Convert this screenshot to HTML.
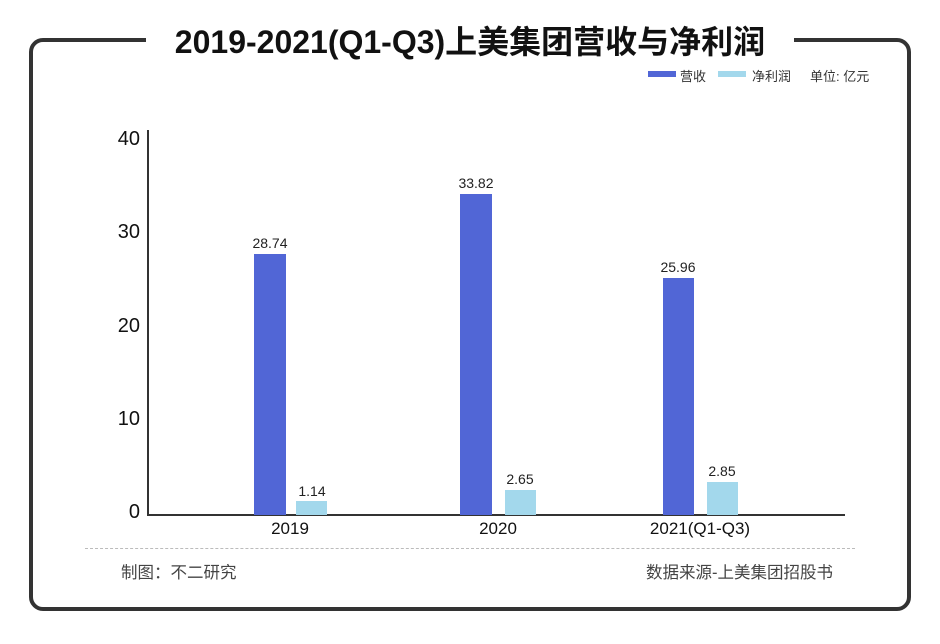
<!DOCTYPE html>
<html><head><meta charset="utf-8"><style>
body{margin:0;width:940px;height:644px;background:#fff;overflow:hidden;font-family:"Liberation Sans","Noto Sans CJK SC",sans-serif;}
.a{position:absolute;}
</style></head><body>
<div class="a" style="left:29px;top:38px;width:874px;height:565px;border:4px solid #333;border-radius:14px;"></div>
<div class="a" style="left:146px;top:14px;width:648px;height:50px;background:#fff;"></div>
<div class="a" style="left:146px;top:17px;width:648px;text-align:center;font-size:32px;font-weight:bold;color:#111;letter-spacing:0px;white-space:nowrap;">2019-2021(Q1-Q3)上美集团营收与净利润</div>
<div class="a" style="left:648px;top:71px;width:28px;height:6px;background:#5166d6;"></div>
<div class="a" style="left:680px;top:66px;font-size:13px;color:#333;">营收</div>
<div class="a" style="left:718px;top:71px;width:28px;height:6px;background:#a3d8ec;"></div>
<div class="a" style="left:752px;top:66px;font-size:13px;color:#333;">净利润</div>
<div class="a" style="left:810px;top:66px;font-size:13px;color:#333;">单位: 亿元</div>
<div class="a" style="left:147px;top:130px;width:2px;height:386px;background:#333;"></div>
<div class="a" style="left:147px;top:514px;width:698px;height:2px;background:#333;"></div>
<div class="a" style="left:100px;top:128px;width:40px;text-align:right;font-size:20px;color:#111;">40</div>
<div class="a" style="left:100px;top:221px;width:40px;text-align:right;font-size:20px;color:#111;">30</div>
<div class="a" style="left:100px;top:315px;width:40px;text-align:right;font-size:20px;color:#111;">20</div>
<div class="a" style="left:100px;top:408px;width:40px;text-align:right;font-size:20px;color:#111;">10</div>
<div class="a" style="left:100px;top:501px;width:40px;text-align:right;font-size:20px;color:#111;">0</div>
<div class="a" style="left:254px;top:254px;width:32px;height:261px;background:#5166d6;"></div>
<div class="a" style="left:296px;top:501px;width:31px;height:14px;background:#a3d8ec;"></div>
<div class="a" style="left:460px;top:194px;width:32px;height:321px;background:#5166d6;"></div>
<div class="a" style="left:505px;top:490px;width:31px;height:25px;background:#a3d8ec;"></div>
<div class="a" style="left:663px;top:278px;width:31px;height:237px;background:#5166d6;"></div>
<div class="a" style="left:707px;top:482px;width:31px;height:33px;background:#a3d8ec;"></div>
<div class="a" style="left:240px;top:235px;width:60px;text-align:center;font-size:14px;color:#222;">28.74</div>
<div class="a" style="left:282px;top:483px;width:60px;text-align:center;font-size:14px;color:#222;">1.14</div>
<div class="a" style="left:446px;top:175px;width:60px;text-align:center;font-size:14px;color:#222;">33.82</div>
<div class="a" style="left:490px;top:471px;width:60px;text-align:center;font-size:14px;color:#222;">2.65</div>
<div class="a" style="left:648px;top:259px;width:60px;text-align:center;font-size:14px;color:#222;">25.96</div>
<div class="a" style="left:692px;top:463px;width:60px;text-align:center;font-size:14px;color:#222;">2.85</div>
<div class="a" style="left:240px;top:519px;width:100px;text-align:center;font-size:17px;color:#111;">2019</div>
<div class="a" style="left:448px;top:519px;width:100px;text-align:center;font-size:17px;color:#111;">2020</div>
<div class="a" style="left:620px;top:519px;width:160px;text-align:center;font-size:17px;color:#111;">2021(Q1-Q3)</div>
<div class="a" style="left:85px;top:548px;width:770px;border-top:1px dashed #bbb;"></div>
<div class="a" style="left:121px;top:559px;font-size:16.5px;color:#444;">制图：不二研究</div>
<div class="a" style="right:107px;top:559px;font-size:16.5px;color:#444;">数据来源-上美集团招股书</div>
</body></html>
